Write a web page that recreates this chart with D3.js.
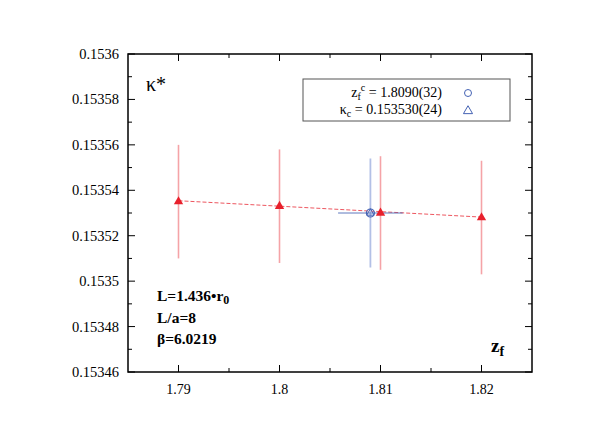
<!DOCTYPE html>
<html>
<head>
<meta charset="utf-8">
<script src="https://cdnjs.cloudflare.com/ajax/libs/d3/7.8.5/d3.min.js"></script>
<style>
  body { margin: 0; background: #fff; }
  text { font-family: "Liberation Serif", "DejaVu Serif", serif; }
</style>
</head>
<body>
<script>
// data
var zf      = [1.79, 1.80, 1.81, 1.82];
var kappa   = [0.153535, 0.153533, 0.153530, 0.153528];
var kErr    = [0.000025, 0.000025, 0.000025, 0.000025];
var fitX    = [1.79, 1.82];
var fitY    = [0.1535354, 0.1535282];
var critZf = 1.8090, critZfErr = 0.0032;
var critK = 0.153530, critKErr = 0.000024;
var xTicks = [1.79, 1.80, 1.81, 1.82];
var xTickLabels = ["1.79", "1.8", "1.81", "1.82"];
var yTicks = [0.15346, 0.15348, 0.1535, 0.15352, 0.15354, 0.15356, 0.15358, 0.1536];
var yTickLabels = ["0.15346", "0.15348", "0.1535", "0.15352", "0.15354", "0.15356", "0.15358", "0.1536"];

var W = 610, H = 432;
var padL = 128, padR = 532, padT = 54, padB = 372;

var svg = d3.select("body").append("svg")
    .attr("width", W)
    .attr("height", H);

var x = d3.scaleLinear().domain([1.785, 1.825]).range([padL, padR]);
var y = d3.scaleLinear().domain([0.15346, 0.1536]).range([padB, padT]);

var red = "#e8202c", redLight = "#f5a3a7";
var blue = "#4563b4", blueLight = "#b3c0e6";

// frame
svg.append("rect")
    .attr("x", padL).attr("y", padT)
    .attr("width", padR - padL).attr("height", padB - padT)
    .attr("fill", "none").attr("stroke", "#000").attr("stroke-width", 1.5);

// ticks (inward, mirrored)
var yMinor = d3.range(0.15347, 0.1536, 0.00002);
var xMinor = [1.795, 1.805, 1.815];
var tk = svg.append("g").attr("stroke", "#000").attr("stroke-width", 1);
yTicks.forEach(function(v){
    tk.append("line").attr("x1", padL).attr("x2", padL + 7).attr("y1", y(v)).attr("y2", y(v));
    tk.append("line").attr("x1", padR).attr("x2", padR - 7).attr("y1", y(v)).attr("y2", y(v));
});
yMinor.forEach(function(v){
    tk.append("line").attr("x1", padL).attr("x2", padL + 4).attr("y1", y(v)).attr("y2", y(v));
    tk.append("line").attr("x1", padR).attr("x2", padR - 4).attr("y1", y(v)).attr("y2", y(v));
});
xTicks.forEach(function(v){
    tk.append("line").attr("x1", x(v)).attr("x2", x(v)).attr("y1", padB).attr("y2", padB - 7);
    tk.append("line").attr("x1", x(v)).attr("x2", x(v)).attr("y1", padT).attr("y2", padT + 7);
});
xMinor.forEach(function(v){
    tk.append("line").attr("x1", x(v)).attr("x2", x(v)).attr("y1", padB).attr("y2", padB - 4);
    tk.append("line").attr("x1", x(v)).attr("x2", x(v)).attr("y1", padT).attr("y2", padT + 4);
});

// tick labels
yTicks.forEach(function(v, i){
    svg.append("text")
        .attr("x", padL - 9).attr("y", y(v) + 5)
        .attr("text-anchor", "end").attr("font-size", 14.5)
        .text(yTickLabels[i]);
});
xTicks.forEach(function(v, i){
    svg.append("text")
        .attr("x", x(v)).attr("y", padB + 22)
        .attr("text-anchor", "middle").attr("font-size", 14)
        .text(xTickLabels[i]);
});

// fit line
svg.append("line")
    .attr("x1", x(fitX[0])).attr("y1", y(fitY[0]))
    .attr("x2", x(fitX[1])).attr("y2", y(fitY[1]))
    .attr("stroke", red).attr("stroke-width", 1)
    .attr("stroke-dasharray", "4,2").attr("opacity", 0.75);

// red error bars
zf.forEach(function(v, i){
    svg.append("line")
        .attr("x1", x(v)).attr("x2", x(v))
        .attr("y1", y(kappa[i] - kErr[i])).attr("y2", y(kappa[i] + kErr[i]))
        .attr("stroke", redLight).attr("stroke-width", 1.6);
});

// blue critical point
svg.append("line")
    .attr("x1", x(critZf)).attr("x2", x(critZf))
    .attr("y1", y(critK - critKErr)).attr("y2", y(critK + critKErr))
    .attr("stroke", blueLight).attr("stroke-width", 1.8);
svg.append("line")
    .attr("x1", x(critZf - critZfErr)).attr("x2", x(critZf + critZfErr))
    .attr("y1", y(critK)).attr("y2", y(critK))
    .attr("stroke", blue).attr("stroke-width", 1).attr("opacity", 0.85);

var tri = d3.symbol().type(d3.symbolTriangle).size(38);

// red triangles
zf.forEach(function(v, i){
    svg.append("path")
        .attr("d", tri)
        .attr("transform", "translate(" + x(v) + "," + y(kappa[i]) + ")")
        .attr("fill", red);
});

svg.append("circle")
    .attr("cx", x(critZf)).attr("cy", y(critK)).attr("r", 4)
    .attr("fill", "none").attr("stroke", blue).attr("stroke-width", 1.2);
svg.append("path")
    .attr("d", d3.symbol().type(d3.symbolTriangle).size(24))
    .attr("transform", "translate(" + x(critZf) + "," + y(critK) + ")")
    .attr("fill", "none").attr("stroke", blue).attr("stroke-width", 1);

// legend
var lg = svg.append("g");
lg.append("rect")
    .attr("x", 303).attr("y", 79).attr("width", 207).attr("height", 42)
    .attr("fill", "#fff").attr("stroke", "#555").attr("stroke-width", 1);
var t1 = lg.append("text").attr("x", 442).attr("y", 97).attr("text-anchor", "end").attr("font-size", 14);
t1.append("tspan").text("z");
t1.append("tspan").attr("font-size", 10).attr("dy", 3).text("f");
t1.append("tspan").attr("font-size", 10).attr("dy", -9).text("c");
t1.append("tspan").attr("dy", 6).text(" = 1.8090(32)");
var t2 = lg.append("text").attr("x", 442).attr("y", 114).attr("text-anchor", "end").attr("font-size", 14);
t2.append("tspan").text("\u03ba");
t2.append("tspan").attr("font-size", 10).attr("dy", 3).text("c");
t2.append("tspan").attr("dy", -3).text(" = 0.153530(24)");
lg.append("circle").attr("cx", 468).attr("cy", 93).attr("r", 3.5)
    .attr("fill", "none").attr("stroke", blue).attr("stroke-width", 1);
lg.append("path")
    .attr("d", d3.symbol().type(d3.symbolTriangle).size(36))
    .attr("transform", "translate(468,111)")
    .attr("fill", "none").attr("stroke", blue).attr("stroke-width", 1);

// axis titles
svg.append("text").attr("x", 146).attr("y", 91).attr("font-size", 20)
    .text("\u03ba*");
var zt = svg.append("text").attr("x", 491).attr("y", 352).attr("font-size", 19).attr("font-weight", "bold");
zt.append("tspan").text("z");
zt.append("tspan").attr("font-size", 14).attr("dy", 4).text("f");

// annotations
var an = svg.append("g").attr("font-size", 15.5).attr("font-weight", "bold");
var a1 = an.append("text").attr("x", 157).attr("y", 301);
a1.append("tspan").text("L=1.436\u2022r");
a1.append("tspan").attr("font-size", 12).attr("dy", 3).text("0");
an.append("text").attr("x", 157).attr("y", 323).text("L/a=8");
an.append("text").attr("x", 157).attr("y", 344).text("\u03b2=6.0219");
</script>
</body>
</html>
